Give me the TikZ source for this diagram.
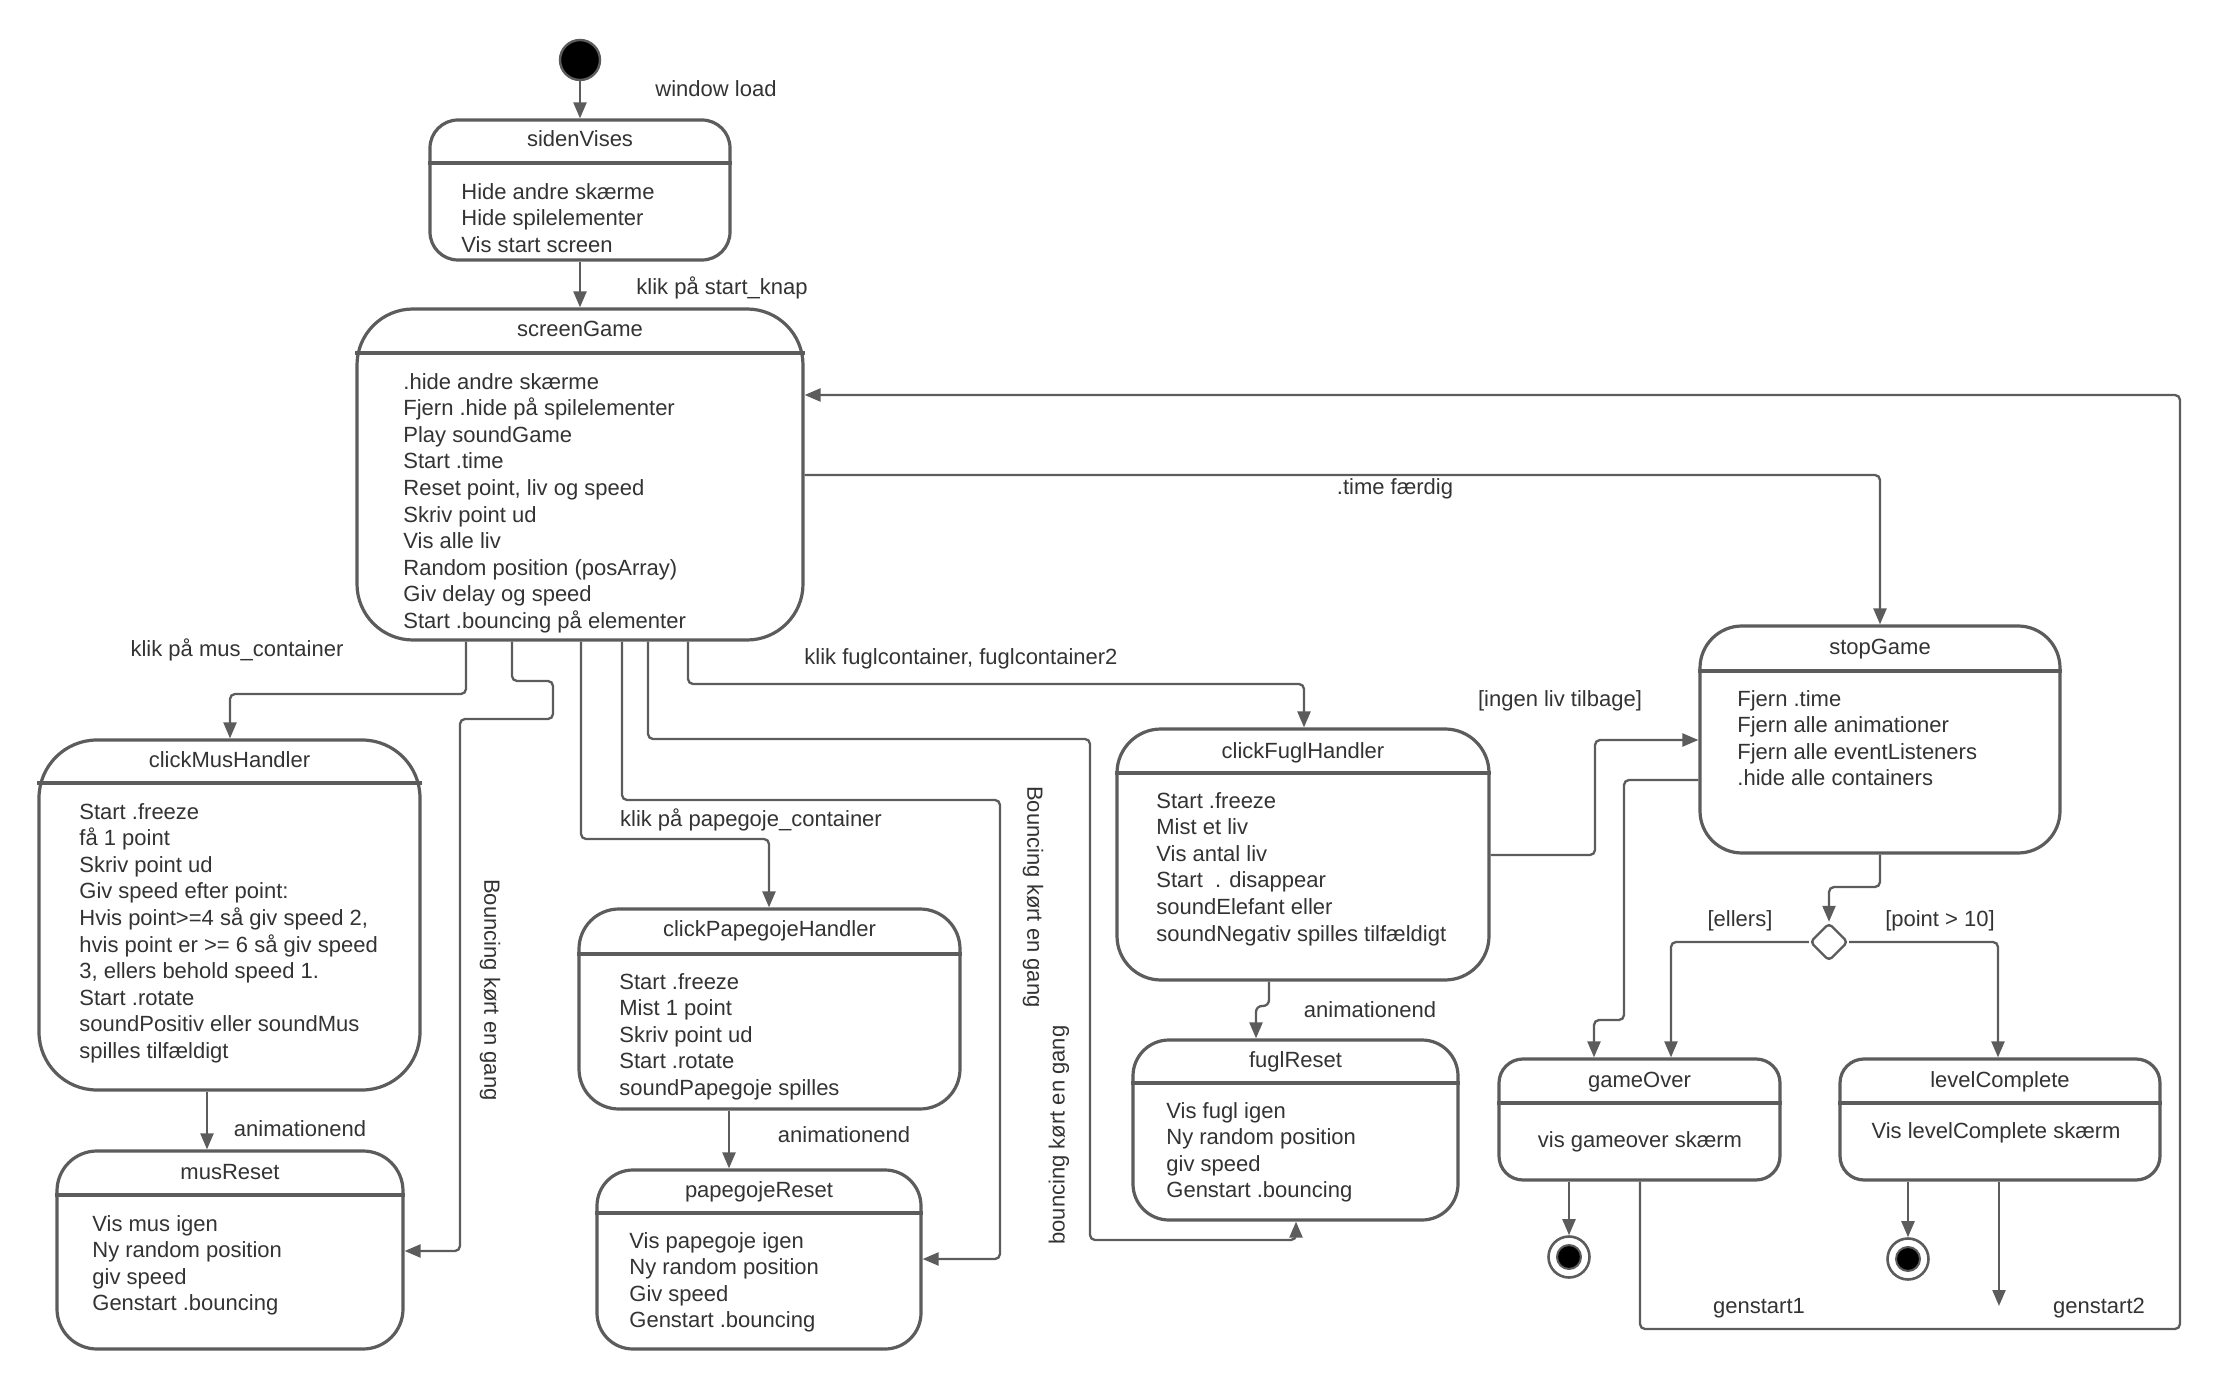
\documentclass[tikz,border=0pt]{standalone}
\usepackage{fontspec}
\setmainfont{Liberation Sans}
\usetikzlibrary{arrows.meta,fit,shapes.geometric}
\definecolor{ln}{RGB}{92,92,92}
\definecolor{tx}{RGB}{51,51,51}
\newcommand\umlstate[9]{%
  \node[stbox, rounded corners=#6, fit={(#2,#3)(#4,#5)}] (#1) {};
  \draw[divline] (#1.west |- 0,#7) -- (#1.east |- 0,#7);
  \node[ttl] (#1-t) at (#1.north |- 0,#9) {#8};
}
\begin{document}
\begin{tikzpicture}[x=0.5pt,y=-0.5pt,
  font=\fontsize{11}{13.3}\selectfont, text=tx,
  stbox/.style={draw=ln, line width=1.6pt, fill=white, inner sep=0pt},
  divline/.style={draw=ln, line width=1.6pt},
  conn/.style={draw=ln, line width=1.15pt, rounded corners=2.5pt},
  arr/.style={conn, -{Triangle[length=8pt,width=6.5pt]}},
  lbl/.style={anchor=base, inner sep=0pt},
  ttl/.style={anchor=base, inner sep=0pt},
  body/.style={anchor=north west, align=left, inner sep=0pt},
  rlbl/.style={anchor=center, inner sep=0pt}]
\useasboundingbox (0,0) rectangle (2240,1390);

% ---------- states ----------
\umlstate{sv}{430}{120}{730}{260}{14pt}{163}{sidenVises}{147}
\node[body] (sv-b) at (461,180) {\strut Hide andre skærme\\Hide spilelementer\\Vis start screen};

\umlstate{sg}{357}{309}{803}{640}{28pt}{353}{screenGame}{337}
\node[body] (sg-b) at (403,370) {\strut .hide andre skærme\\Fjern .hide på spilelementer\\Play soundGame\\Start .time\\Reset point, liv og speed\\Skriv point ud\\Vis alle liv\\Random position (posArray)\\Giv delay og speed\\Start .bouncing på elementer};

\umlstate{cm}{39}{740}{420}{1090}{29pt}{783}{clickMusHandler}{767}
\node[body] (cm-b) at (79,800) {\strut Start .freeze\\få 1 point\\Skriv point ud\\Giv speed efter point:\\Hvis point>=4 så giv speed 2,\\hvis point er >= 6 så giv speed\\3, ellers behold speed 1.\\Start .rotate\\soundPositiv eller soundMus\\spilles tilfældigt};

\umlstate{mr}{57}{1151}{403}{1349}{20pt}{1195}{musReset}{1179}
\node[body] (mr-b) at (92,1212) {\strut Vis mus igen\\Ny random position\\giv speed\\Genstart .bouncing};

\umlstate{cp}{579}{909}{960}{1109}{20pt}{954}{clickPapegojeHandler}{936}
\node[body] (cp-b) at (619,970) {\strut Start .freeze\\Mist 1 point\\Skriv point ud\\Start .rotate\\soundPapegoje spilles};

\umlstate{pr}{597}{1170}{921}{1349}{18pt}{1213}{papegojeReset}{1197}
\node[body] (pr-b) at (629,1229) {\strut Vis papegoje igen\\Ny random position\\Giv speed\\Genstart .bouncing};

\umlstate{cf}{1117}{729}{1489}{980}{22pt}{773}{clickFuglHandler}{758}
\node[body] (cf-b) at (1156,789) {\strut Start .freeze\\Mist et liv\\Vis antal liv\\Start~~. disappear\\soundElefant eller\\soundNegativ spilles tilfældigt};

\umlstate{fr}{1133}{1040}{1458}{1220}{18pt}{1083}{fuglReset}{1067}
\node[body] (fr-b) at (1166,1099) {\strut Vis fugl igen\\Ny random position\\giv speed\\Genstart .bouncing};

\umlstate{st}{1700}{626}{2060}{853}{21pt}{671}{stopGame}{654}
\node[body] (st-b) at (1737,687) {\strut Fjern .time\\Fjern alle animationer\\Fjern alle eventListeners\\.hide alle containers};

\umlstate{go}{1499}{1059}{1780}{1180}{12pt}{1103}{gameOver}{1087}
\node[lbl] (go-b) at (1640,1147) {vis gameover skærm};

\umlstate{lc}{1840}{1059}{2160}{1180}{12pt}{1103}{levelComplete}{1087}
\node[lbl] (lc-b) at (1996,1138) {Vis levelComplete skærm};

% ---------- pseudo states ----------
\node[circle, fill=black, draw=ln, line width=1.2pt, minimum size=20pt, inner sep=0pt] (init) at (580,60) {};
\node[circle, draw=ln, line width=1.3pt, fill=white, minimum size=20.5pt, inner sep=0pt] (f1) at (1569,1257) {};
\node[circle, draw=ln, line width=1pt, fill=black, minimum size=12pt, inner sep=0pt] (f1i) at (f1) {};
\node[circle, draw=ln, line width=1.3pt, fill=white, minimum size=20.5pt, inner sep=0pt] (f2) at (1908,1259) {};
\node[circle, draw=ln, line width=1pt, fill=black, minimum size=12pt, inner sep=0pt] (f2i) at (f2) {};
\node[diamond, draw=ln, line width=1.2pt, fill=white, minimum width=19pt, minimum height=19pt, inner sep=0pt, rounded corners=2pt] (dec) at (1829,942) {};
\coordinate (g2end) at (1999,1306);

% ---------- connectors ----------
\draw[arr] (init) -- (sv);
\draw[arr] (sv) -- (sg);
\draw[arr] (sg.south -| 466,0) -- (466,694) -- (230,694) -- (cm.north -| 230,0);
\draw[arr] (sg.south -| 512,0) -- (512,681) -- (553,681) -- (553,719) -- (460,719) -- (460,1251) -- (mr.east |- 0,1251);
\draw[arr] (cm.south -| 207,0) -- (mr.north -| 207,0);
\draw[arr] (sg.south -| 581,0) -- (581,839) -- (769,839) -- (cp.north -| 769,0);
\draw[arr] (sg.south -| 622,0) -- (622,800) -- (1000,800) -- (1000,1259) -- (pr.east |- 0,1259);
\draw[arr] (sg.south -| 648,0) -- (648,739) -- (1090,739) -- (1090,1240) -- (1296,1240) -- (fr.south -| 1296,0);
\draw[arr] (sg.south -| 688,0) -- (688,684) -- (1304,684) -- (cf.north -| 1304,0);
\draw[arr] (cp.south -| 729,0) -- (pr.north -| 729,0);
\draw[arr, rounded corners=3pt] (cf.south -| 1269,0) -- (1269,1006) -- (1256,1006) -- (fr.north -| 1256,0);
\draw[arr] (cf.east |- 0,855) -- (1595,855) -- (1595,740) -- (st.west |- 0,740);
\draw[arr] (st.west |- 0,780) -- (1624,780) -- (1624,1020) -- (1594,1020) -- (go.north -| 1594,0);
\draw[arr] (sg.east |- 0,475) -- (1880,475) -- (st.north -| 1880,0);
\draw[arr] (st.south -| 1880,0) -- (1880,887) -- (1829,887) -- (dec.north);
\draw[arr] (dec.west) -- (1671,942) -- (go.north -| 1671,0);
\draw[arr] (dec.east) -- (1998,942) -- (lc.north -| 1998,0);
\draw[arr] (go.south -| 1569,0) -- (f1.north);
\draw[arr] (lc.south -| 1908,0) -- (f2.north);
\draw[arr] (go.south -| 1640,0) -- (1640,1329) -- (2180,1329) -- (2180,395) -- (sg.east |- 0,395);
\draw[arr] (lc.south -| 1999,0) -- (g2end);

% ---------- labels ----------
\node[lbl] (l1) at (716,97) {window load};
\node[lbl] (l2) at (722,295) {klik på start\_knap};
\node[lbl] (l3) at (237,656) {klik på mus\_container};
\node[lbl] (l4) at (300,1136) {animationend};
\node[lbl] (l5) at (751,826) {klik på papegoje\_container};
\node[lbl] (l6) at (844,1142) {animationend};
\node[lbl] (l7) at (961,664) {klik fuglcontainer, fuglcontainer2};
\node[lbl] (l8) at (1370,1017) {animationend};
\node[lbl] (l9) at (1560,706) {[ingen liv tilbage]};
\node[lbl] (l10) at (1395,495) {.time færdig};
\node[lbl] (l11) at (1740,926) {[ellers]};
\node[lbl] (l12) at (1940,926) {[point > 10]};
\node[lbl] (l13) at (1759,1313) {genstart1};
\node[lbl] (l14) at (2099,1313) {genstart2};
\node[rlbl, rotate=-90] (l15) at (490,990) {Bouncing kørt en gang};
\node[rlbl, rotate=-90] (l16) at (1033,897) {Bouncing kørt en gang};
\node[rlbl, rotate=90] (l17) at (1059,1135) {bouncing kørt en gang};
\end{tikzpicture}
\end{document}
